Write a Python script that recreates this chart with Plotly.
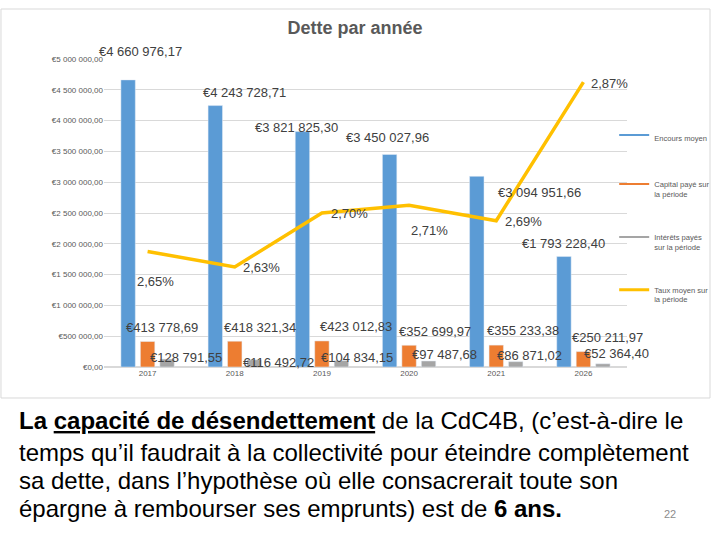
import plotly.graph_objects as go

# ---- data ----
years = ["2017", "2018", "2019", "2020", "2021", "2026"]
encours_moyen = [4660976.17, 4243728.71, 3821825.30, 3450027.96, 3094951.66, 1793228.40]
capital_paye = [413778.69, 418321.34, 423012.83, 352699.97, 355233.38, 250211.97]
interets_payes = [128791.55, 116492.72, 104834.15, 97487.68, 86871.02, 52364.40]
taux_moyen = [2.65, 2.63, 2.70, 2.71, 2.69, 2.87]

series_names = ["Encours moyen", "Capital payé sur<br>la période",
                "Intérêts payés<br>sur la période", "Taux moyen sur<br>la période"]
colors = ["#5B9BD5", "#ED7D31", "#A5A5A5", "#FFC000"]

# label offsets (pixels, from each data point; positive dy = up), as moved in the original
enc_dx = [-7.5, 10, -25, -22, 43.5, -19.5]
enc_dy = [28, 12.6, 3.6, 17, -15.7, 13.5]
cap_dx = [14.5, 25.5, 34, 25.5, 27, 24]
cap_dy = [14.5, 14.2, 14, 13.3, 15, 13.6]
int_dx = [38.5, 43.5, 35, 35, 33.5, 33.5]
int_dy = [2, -2.2, 3.5, 6, 6.6, 9.8]
taux_dx = [8, 27, 27.5, 20, 27, 26.5]
taux_dy = [-30, -0.7, -0.7, -25, -0.7, -1]


def eur(v):
    s = f"{v:,.2f}".replace(",", " ").replace(".", ",")
    return "€" + s


def pct(v):
    return f"{v:.2f}".replace(".", ",") + "%"


fig = go.Figure()
for vals, col in zip([encours_moyen, capital_paye, interets_payes], colors[:3]):
    fig.add_trace(go.Bar(x=years, y=vals, marker_color=col, showlegend=False,
                         hoverinfo="skip"))
fig.add_trace(go.Scatter(x=years, y=taux_moyen, yaxis="y2", mode="lines",
                         line=dict(color=colors[3], width=3.5), showlegend=False,
                         hoverinfo="skip"))

# legend entries (line symbols like the original)
for i, (nm, col) in enumerate(zip(series_names, colors)):
    fig.add_trace(go.Scatter(x=[years[0]], y=[None], mode="lines", name=nm,
                             legendgroup=str(i), hoverinfo="skip",
                             line=dict(color=col, width=3 if i == 3 else 2)))

label_font = dict(family="Liberation Sans, Arial", size=13, color="#404040")
ann = []
for vals, dxs, dys in [(encours_moyen, enc_dx, enc_dy), (capital_paye, cap_dx, cap_dy),
                       (interets_payes, int_dx, int_dy)]:
    for i, (v, dx, dy) in enumerate(zip(vals, dxs, dys)):
        ann.append(dict(x=i, y=v, xref="x", yref="y", text=eur(v), showarrow=False,
                        xshift=dx, yshift=dy, font=label_font,
                        xanchor="center", yanchor="middle"))
for i, (v, dx, dy) in enumerate(zip(taux_moyen, taux_dx, taux_dy)):
    ann.append(dict(x=i, y=v, xref="x", yref="y2", text=pct(v), showarrow=False,
                    xshift=dx, yshift=dy, font=label_font,
                    xanchor="center", yanchor="middle"))

# slide text below the chart
body_font = dict(family="Liberation Sans, Arial", size=24, color="#000000")
body_lines = [
    "<b>La <u>capacité de désendettement</u></b> de la CdC4B, (c’est-à-dire le",
    "temps qu’il faudrait à la collectivité pour éteindre complètement",
    "sa dette, dans l’hypothèse où elle consacrerait toute son",
    "épargne à rembourser ses emprunts) est de <b>6 ans.</b>",
]
body_y = [-0.1753, -0.2760, -0.3701, -0.461]
for t, yy in zip(body_lines, body_y):
    ann.append(dict(x=-0.1663, y=yy, xref="paper", yref="paper", text=t,
                    showarrow=False, xanchor="left", yanchor="middle", font=body_font))
ann.append(dict(x=1.0822, y=-0.477, xref="paper", yref="paper", text="22",
                showarrow=False, xanchor="center", yanchor="middle",
                font=dict(family="Liberation Sans", size=11, color="#8C8C8C")))

fig.update_layout(
    width=720, height=540,
    margin=dict(l=104, r=93, t=59, b=173, autoexpand=False),
    paper_bgcolor="white", plot_bgcolor="white",
    separators=", ",
    barmode="group", bargap=0.33, bargroupgap=0.26,
    title=dict(text="Dette par année", x=0.493, xref="container", y=0.948,
               yref="container", xanchor="center", yanchor="middle",
               font=dict(family="Liberation Sans", size=18, color="#595959",
                         weight="bold")),
    xaxis=dict(type="category", categoryorder="array", categoryarray=years,
               range=[-0.5, len(years) - 0.5], showgrid=False, showline=False,
               ticks="", zeroline=False,
               tickfont=dict(family="Liberation Sans", size=8, color="#595959")),
    yaxis=dict(range=[0, 5000000], dtick=500000, tick0=0, tickprefix="€",
               tickformat=",.2f", showgrid=True, gridcolor="#D9D9D9",
               gridwidth=1, zeroline=True, zerolinecolor="#D9D9D9",
               showline=False, ticks="",
               tickfont=dict(family="Liberation Sans", size=8, color="#595959")),
    yaxis2=dict(range=[2.5, 2.9], overlaying="y", side="right", visible=False,
                showgrid=False),
    legend=dict(x=0.9755, y=0.79, xanchor="left", yanchor="top",
                font=dict(family="Liberation Sans", size=7.6, color="#595959"),
                tracegroupgap=30, valign="top", itemwidth=30,
                bgcolor="rgba(0,0,0,0)", traceorder="grouped"),
    annotations=ann,
    shapes=[dict(type="rect", xref="paper", yref="paper", x0=-0.197, x1=1.1587,
                 y0=-0.1006, y1=1.1623, line=dict(color="#D9D9D9", width=1),
                 fillcolor="rgba(0,0,0,0)", layer="below")],
)

fig.write_html("out.html", config={"displayModeBar": False},
               post_script="document.body.style.margin='0';document.body.style.overflow='hidden';")
